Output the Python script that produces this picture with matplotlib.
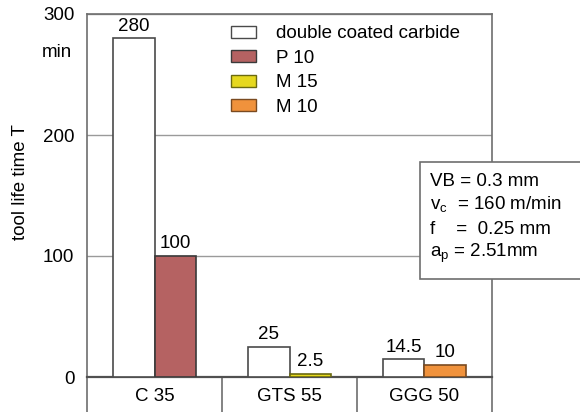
import matplotlib.pyplot as plt
from matplotlib.patches import Patch, Rectangle
from matplotlib.transforms import blended_transform_factory

plt.rcParams['font.family'] = ['Liberation Sans', 'DejaVu Sans']

materials = ['C 35', 'GTS 55', 'GGG 50']
coated = [280, 25, 14.5]
uncoated = [100, 2.5, 10]
uncoated_grade = ['P 10', 'M 15', 'M 10']
coated_labels = ['280', '25', '14.5']
uncoated_labels = ['100', '2.5', '10']
legend_names = ['double coated carbide', 'P 10', 'M 15', 'M 10']
yticks = [0, 100, 200, 300]
conditions = ['VB = 0.3 mm', r'v$_\mathregular{c}$  = 160 m/min',
              'f    =  0.25 mm', r'a$_\mathregular{p}$ = 2.51mm']

grade_colors = {'P 10': '#b56262', 'M 15': '#e6d81e', 'M 10': '#f0923c'}
grade_edges = {'P 10': '#3a3a3a', 'M 15': '#6b6a10', 'M 10': '#7a4a20'}
edge = '#4a4a4a'
line_col = '#6e6e6e'
fs = 13.5

fig = plt.figure(figsize=(5.8, 4.12), dpi=100)
ax = fig.add_axes([87 / 580, 1 - 377 / 412, 405 / 580, 363 / 412])

w = 0.31
x = list(range(len(materials)))
for i in x:
    ax.bar(i - w / 2, coated[i], w, color='white', edgecolor=edge, linewidth=1.2, zorder=3)
    g = uncoated_grade[i]
    ax.bar(i + w / 2, uncoated[i], w, color=grade_colors[g], edgecolor=grade_edges[g],
           linewidth=1.2, zorder=3)
    ax.text(i - w / 2, coated[i] + 3, coated_labels[i], ha='center', va='bottom', fontsize=fs)
    ax.text(i + w / 2, uncoated[i] + 3, uncoated_labels[i], ha='center', va='bottom', fontsize=fs)

ax.set_xlim(-0.5, 2.5)
ax.set_ylim(0, 300)
ax.set_xticks([])
ax.set_yticks(yticks)
ax.tick_params(axis='y', length=0, pad=9, labelsize=fs)
ax.grid(axis='y', color='#9a9a9a', linewidth=1.0, zorder=0)
ax.set_axisbelow(True)
for s in ax.spines.values():
    s.set_color(line_col)
    s.set_linewidth(1.2)
ax.spines['bottom'].set_linewidth(1.6)
ax.spines['bottom'].set_color('#505050')

# category row under the axis
tr = blended_transform_factory(ax.transData, ax.transAxes)
row = 36 / 363
for xs in [-0.5, 0.5, 1.5, 2.5]:
    ax.plot([xs, xs], [-row, 0], transform=tr, color=line_col, linewidth=1.2, clip_on=False)
for i, m in enumerate(materials):
    ax.text(i, -row / 2 - 0.004, m, transform=tr, ha='center', va='center', fontsize=fs)

# axis labels
tr_y = blended_transform_factory(ax.transAxes, ax.transData)
ax.text(-0.037, 268, 'min', transform=tr_y, ha='right', va='center', fontsize=fs)
ax.text(-0.165, 161, 'tool life time T', transform=tr_y, rotation=90,
        ha='center', va='center', fontsize=fs)

# legend
handles = [Patch(facecolor='white', edgecolor=edge, linewidth=1.0)]
handles += [Patch(facecolor=grade_colors[g], edgecolor=grade_edges[g], linewidth=1.0)
            for g in legend_names[1:]]
ax.legend(handles, legend_names, loc='upper left', bbox_to_anchor=(0.323, 1.005),
          frameon=False, fontsize=fs, handlelength=1.33, handleheight=0.64,
          handletextpad=1.05, labelspacing=0.4, borderaxespad=0.3)

# condition box
bx = (420 - 87) / 405
by = (377 - 279) / 363
ax.add_patch(Rectangle((bx, by), 0.5, (279 - 162) / 363, transform=ax.transAxes,
                       facecolor='white', edgecolor=line_col, linewidth=1.2,
                       clip_on=False, zorder=5))
cond_y = [181, 205, 229, 253]
for t, yy in zip(conditions, cond_y):
    ax.text((430 - 87) / 405, (377 - yy) / 363, t, transform=ax.transAxes,
            ha='left', va='center', fontsize=fs, zorder=6)

fig.savefig('out.png', dpi=100)
